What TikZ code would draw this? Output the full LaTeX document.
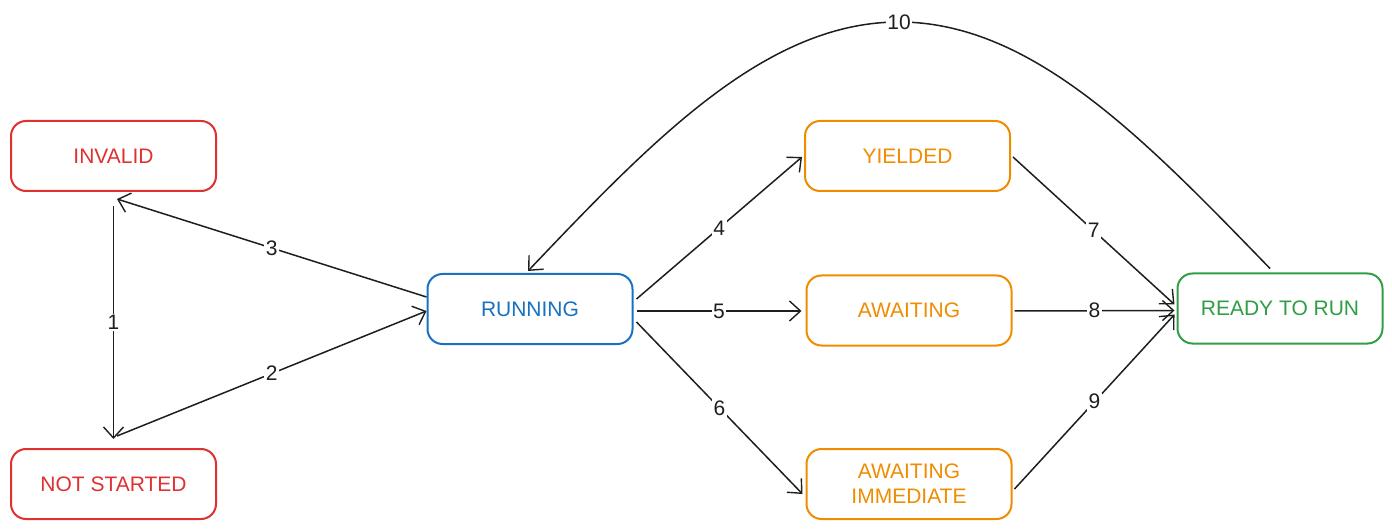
\documentclass[tikz,border=0pt]{standalone}
\usepackage{fontspec}
\setmainfont{Liberation Sans}
\usetikzlibrary{arrows.meta,calc}
\definecolor{exred}{HTML}{E03131}
\definecolor{exblue}{HTML}{1971C2}
\definecolor{exorange}{HTML}{F08C00}
\definecolor{exgreen}{HTML}{2F9E44}
\definecolor{exink}{HTML}{1E1E1E}
\tikzset{
  state/.style={draw, line width=2pt, rounded corners=15pt, minimum width=205pt,
    minimum height=70pt, inner sep=0pt, align=center, fill=white,
    font=\fontsize{21}{25}\selectfont},
  redstate/.style={state, draw=exred, text=exred},
  bluestate/.style={state, draw=exblue, text=exblue},
  orangestate/.style={state, draw=exorange, text=exorange},
  greenstate/.style={state, draw=exgreen, text=exgreen},
  conn/.style={draw=exink, line width=1.5pt, -{Straight Barb[length=11pt,width=20pt,line width=1.4pt]}},
  lbl/.style={fill=white, text=exink, inner sep=1.5pt, font=\fontsize{21}{23}\selectfont}
}
\begin{document}
\begin{tikzpicture}[x=1pt,y=-1pt]
\useasboundingbox (0,0) rectangle (1392,529);
\node[redstate] (invalid) at (113.5,156) {INVALID};
\node[redstate] (notstarted) at (113.5,484) {NOT STARTED};
\node[bluestate] (running) at (530,309) {RUNNING};
\node[orangestate] (yielded) at (907.5,156) {YIELDED};
\node[orangestate] (awaiting) at (909,310.5) {AWAITING};
\node[orangestate] (awimm) at (909,484) {AWAITING\\IMMEDIATE};
\node[greenstate] (ready) at (1280,308.5) {READY TO RUN};

\draw[conn] ($(invalid.south)+(0,14)$) -- node[lbl]{1} ($(notstarted.north)+(0,-9)$);
\draw[conn] ($(notstarted.north)+(3.5,-12)$) -- node[lbl]{2} ($(running.west)+(0,2)$);
\draw[conn] ($(running.west)+(0,-12)$) -- node[lbl]{3} ($(invalid.south)+(3.5,7)$);
\draw[conn] ($(running.east)+(3,-10)$) -- node[lbl]{4} ($(yielded.west)+(-2,1)$);
\draw[conn] ($(running.east)+(3,2)$) -- node[lbl]{5} ($(awaiting.west)+(-4,0.5)$);
\draw[conn] ($(running.east)+(3,13)$) -- node[lbl]{6} ($(awimm.west)+(-3,10)$);
\draw[conn] ($(yielded.east)+(2,1)$) -- node[lbl]{7} ($(ready.west)+(-2,-4)$);
\draw[conn] ($(awaiting.east)+(2,0.5)$) -- node[lbl]{8} ($(ready.west)+(-2,2)$);
\draw[conn] ($(awimm.east)+(2,5)$) -- node[lbl]{9} ($(ready.west)+(-2,6)$);
\draw[conn] ($(ready.north)+(-10,-4)$) .. controls (1146,140.7) and (1032.6,22) .. (899,22) node[lbl]{10}
  .. controls (765.4,22) and (652,140.7) .. ($(running.north)+(-2,-2)$);
\end{tikzpicture}
\end{document}
